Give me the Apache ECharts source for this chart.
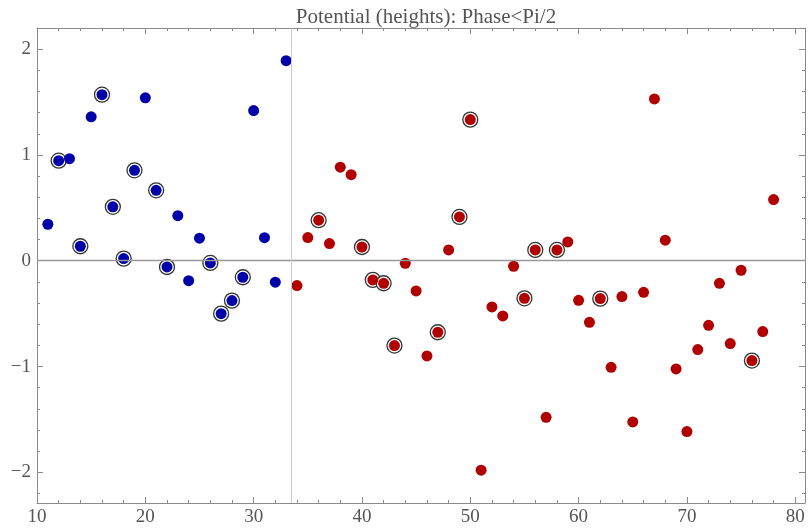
<!DOCTYPE html>
<html>
<head>
    <meta charset="utf-8">
    <title>Potential (heights)</title>
    <script src="https://cdn.jsdelivr.net/npm/echarts@6/dist/echarts.min.js"></script>
    <style>
        html, body { margin: 0; padding: 0; background: #fff; }
        #container { width: 809px; height: 529px; }
    </style>
</head>
<body>
<div id="container"></div>
<script type="text/javascript">
    // phase < pi/2, left group (blue) and right group (red)
    var blueX = [11, 12, 13, 14, 15, 16, 17, 18, 19, 20, 21, 22, 23, 24, 25, 26, 27, 28, 29, 30, 31, 32, 33];
    var blueY = [0.345, 0.946, 0.965, 0.137, 1.36, 1.57, 0.51, 0.02, 0.855, 1.54, 0.666, -0.059, 0.426, -0.188, 0.213, -0.021, -0.5, -0.377, -0.156, 1.419, 0.218, -0.203, 1.891];
    var redX = [34, 35, 36, 37, 38, 39, 40, 41, 42, 43, 44, 45, 46, 47, 48, 49, 50, 51, 52, 53, 54, 55, 56,
                57, 58, 59, 60, 61, 62, 63, 64, 65, 66, 67, 68, 69, 70, 71, 72, 73, 74, 75, 76, 77, 78];
    var redY = [-0.235, 0.219, 0.383, 0.162, 0.884, 0.814, 0.13, -0.181, -0.213, -0.802, -0.024, -0.285, -0.9, -0.676, 0.102, 0.414, 1.334, -1.98, -0.437, -0.522, -0.052, -0.355, 0.102,
                -1.48, 0.102, 0.178, -0.374, -0.582, -0.358, -1.007, -0.339, -1.524, -0.298, 1.529, 0.194, -1.023, -1.615, -0.84, -0.61, -0.213, -0.783, -0.09, -0.944, -0.67, 0.578];
    // points with a ring around them
    var circledX = [12, 14, 16, 17, 18, 19, 21, 22, 26, 27, 28, 29,
                    36, 40, 41, 42, 43, 47, 49, 50, 55, 56, 58, 62, 76];
    var splitX = 33.5;

    var xs = blueX.concat(redX);
    var ys = blueY.concat(redY);
    var rings = circledX.map(function(x) {
        return [x, ys[xs.indexOf(x)]];
    });
    function pairs(a, b) {
        return a.map(function(v, i) { return [v, b[i]]; });
    }

    var frame = '#8a8a8a';
    var font = 'Liberation Serif';

    var dom = document.getElementById("container");
    var myChart = echarts.init(dom);
    var option = {
        animation: false,
        title: {
            text: 'Potential (heights): Phase<Pi/2',
            left: 421,
            textAlign: 'center',
            top: 2,
            textStyle: { fontFamily: font, fontWeight: 'normal', fontSize: 21, color: '#555' }
        },
        grid: { left: 37, right: 4, top: 28, bottom: 26 },
        xAxis: [{
            type: 'value', position: 'bottom', min: 10, max: 80.9, interval: 10,
            axisLine: { onZero: false, lineStyle: { color: frame } },
            axisTick: { inside: true, length: 6, lineStyle: { color: frame } },
            minorTick: { show: true, splitNumber: 5, length: 3, lineStyle: { color: frame } },
            axisLabel: { showMaxLabel: false, margin: 5, fontFamily: font, fontSize: 19, color: '#555' },
            splitLine: { show: false }
        }, {
            type: 'value', position: 'top', min: 10, max: 80.9, interval: 10,
            axisLine: { onZero: false, lineStyle: { color: frame } },
            axisTick: { inside: true, length: 6, lineStyle: { color: frame } },
            minorTick: { show: true, splitNumber: 5, length: 3, lineStyle: { color: frame } },
            axisLabel: { show: false },
            splitLine: { show: false }
        }],
        yAxis: [{
            type: 'value', position: 'left', min: -2.29, max: 2.2, splitNumber: 5,
            axisLine: { show: true, onZero: false, lineStyle: { color: frame } },
            axisTick: { show: true, inside: true, length: 6, lineStyle: { color: frame } },
            minorTick: { show: true, splitNumber: 5, length: 3, lineStyle: { color: frame } },
            axisLabel: {
                showMinLabel: false, showMaxLabel: false, margin: 6,
                fontFamily: font, fontSize: 19, color: '#555',
                formatter: function(v) { return v < 0 ? '\u2212' + (-v) : '' + v; }
            },
            splitLine: { show: false }
        }, {
            type: 'value', position: 'right', min: -2.29, max: 2.2, splitNumber: 5,
            axisLine: { show: true, onZero: false, lineStyle: { color: frame } },
            axisTick: { show: true, inside: true, length: 6, lineStyle: { color: frame } },
            minorTick: { show: true, splitNumber: 5, length: 3, lineStyle: { color: frame } },
            axisLabel: { show: false },
            splitLine: { show: false }
        }],
        series: [{
            name: 'rings',
            type: 'scatter',
            symbolSize: 15,
            itemStyle: { color: '#fff', borderColor: '#333', borderWidth: 1.3, opacity: 1 },
            data: rings,
            markLine: {
                silent: true,
                symbol: 'none',
                label: { show: false },
                data: [
                    { yAxis: 0, lineStyle: { color: '#999', width: 1.3, type: 'solid' } },
                    { xAxis: splitX, lineStyle: { color: '#ccc', width: 1, type: 'solid' } }
                ]
            }
        }, {
            name: 'left',
            type: 'scatter',
            symbolSize: 11,
            itemStyle: { color: '#0000a8', opacity: 1 },
            data: pairs(blueX, blueY)
        }, {
            name: 'right',
            type: 'scatter',
            symbolSize: 11,
            itemStyle: { color: '#b00000', opacity: 1 },
            data: pairs(redX, redY)
        }]
    };
    if (option && typeof option === "object") {
        myChart.setOption(option, true);
    }
</script>
</body>
</html>
